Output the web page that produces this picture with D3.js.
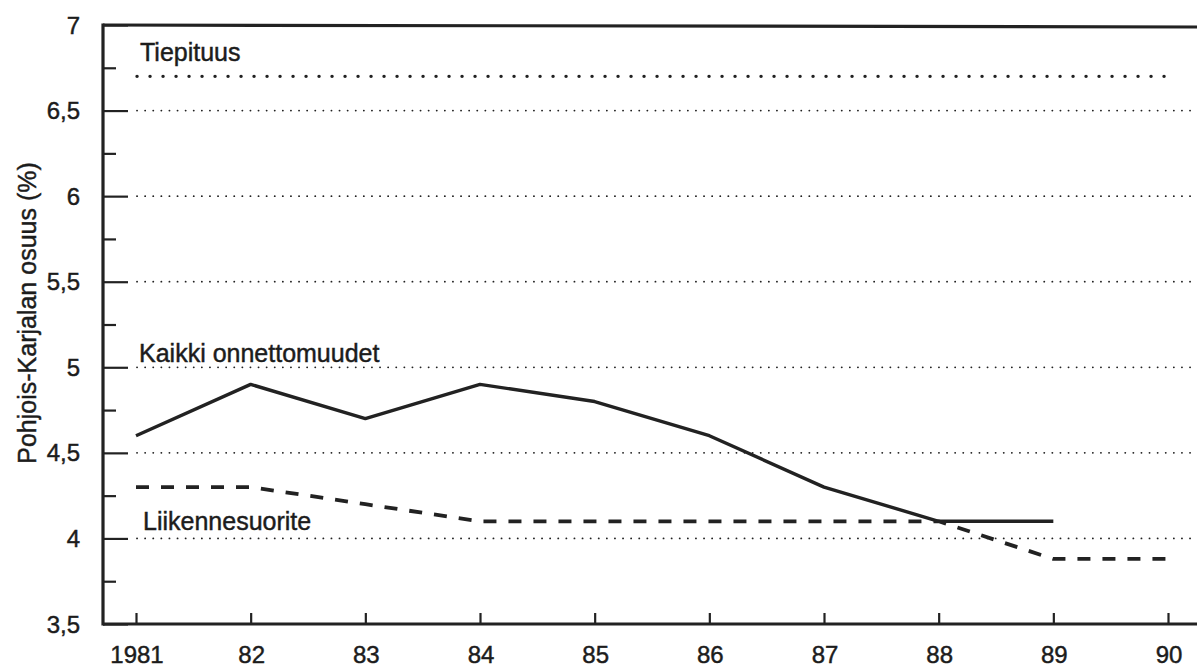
<!DOCTYPE html>
<html>
<head>
<meta charset="utf-8">
<script src="https://cdn.jsdelivr.net/npm/d3@7"></script>
<style>
html,body{margin:0;padding:0;background:#fff;}
svg{display:block;}
text{font-family:"Liberation Sans",Arial,Helvetica,sans-serif;fill:#1c1c1c;stroke:#1c1c1c;stroke-width:0.45px;}
</style>
</head>
<body>
<svg id="chart" width="1197" height="668"></svg>
<script>
// ---- data ----
const years = [1981, 1982, 1983, 1984, 1985, 1986, 1987, 1988, 1989, 1990];
const xTickLabels = ["1981", "82", "83", "84", "85", "86", "87", "88", "89", "90"];
const yTicks = [3.5, 4, 4.5, 5, 5.5, 6, 6.5, 7];
const yTickLabels = ["3,5", "4", "4,5", "5", "5,5", "6", "6,5", "7"];
const yMinorTicks = [3.75, 4.25, 4.75, 5.25, 5.75, 6.25, 6.75];
const gridValues = [4, 4.5, 5, 5.5, 6, 6.5];
const tiepituus = [6.7, 6.7, 6.7, 6.7, 6.7, 6.7, 6.7, 6.7, 6.7, 6.7];
const kaikkiOnnettomuudet = [4.6, 4.9, 4.7, 4.9, 4.8, 4.6, 4.3, 4.1, 4.1];
const liikennesuorite = [4.3, 4.3, 4.2, 4.1, 4.1, 4.1, 4.1, 4.1, 3.88, 3.88];
const seriesLabels = [
  {text: "Tiepituus", year: 1981, value: 6.7, dx: 4, dy: -15},
  {text: "Kaikki onnettomuudet", year: 1981, value: 5, dx: 3, dy: -5},
  {text: "Liikennesuorite", year: 1981, value: 4, dx: 7, dy: -8}
];
const yTitle = "Pohjois-Karjalan osuus (%)";

// ---- layout ----
const W = 1197, H = 668;
const axisX = 103, topY = 25, bottomY = 624;
const ink = "#222";

const svg = d3.select("#chart");
const x = d3.scaleLinear().domain([1981, 1990]).range([136, 1168]);
const y = d3.scaleLinear().domain([3.5, 7]).range([bottomY, topY]);

// grid lines (dotted)
svg.append("g").selectAll("line").data(gridValues).join("line")
  .attr("x1", 137).attr("x2", W)
  .attr("y1", d => y(d)).attr("y2", d => y(d))
  .attr("stroke", ink).attr("stroke-width", 1.8)
  .attr("stroke-linecap", "round")
  .attr("stroke-dasharray", "0.1 8");

// y axis with major and minor ticks (inward)
const yAxis = d3.axisRight(y).tickValues(yTicks).tickSize(25).tickFormat("");
const gy = svg.append("g").attr("transform", `translate(${axisX},0)`).call(yAxis);
gy.select(".domain").remove();
gy.selectAll(".tick line").attr("stroke", ink).attr("stroke-width", 2.2);
const yAxisMinor = d3.axisRight(y).tickValues(yMinorTicks).tickSize(13).tickFormat("");
const gym = svg.append("g").attr("transform", `translate(${axisX},0)`).call(yAxisMinor);
gym.select(".domain").remove();
gym.selectAll(".tick line").attr("stroke", ink).attr("stroke-width", 2.2);

// y tick labels
svg.append("g").selectAll("text").data(yTicks).join("text")
  .attr("x", 80).attr("y", d => y(d)).attr("dy", "0.36em")
  .attr("text-anchor", "end").attr("font-size", 24)
  .text((d, i) => yTickLabels[i]);

// x axis ticks (upward)
const xAxis = d3.axisTop(x).tickValues(years).tickSize(11).tickFormat("");
const gx = svg.append("g").attr("transform", `translate(0,${bottomY})`).call(xAxis);
gx.select(".domain").remove();
gx.selectAll(".tick line").attr("stroke", ink).attr("stroke-width", 2.2);

svg.append("g").selectAll("text").data(years).join("text")
  .attr("x", d => x(d) + 1).attr("y", 663)
  .attr("text-anchor", "middle").attr("font-size", 24)
  .text((d, i) => xTickLabels[i]);

// frame: left axis, top border, bottom axis
svg.append("line").attr("x1", axisX).attr("x2", axisX).attr("y1", topY - 1.5).attr("y2", bottomY + 1.5)
  .attr("stroke", ink).attr("stroke-width", 3.2);
svg.append("line").attr("x1", axisX).attr("x2", W).attr("y1", topY).attr("y2", topY + 2)
  .attr("stroke", ink).attr("stroke-width", 3.2);
svg.append("line").attr("x1", axisX).attr("x2", W).attr("y1", bottomY).attr("y2", bottomY)
  .attr("stroke", ink).attr("stroke-width", 3.2);

// series
const line = d3.line().x((d, i) => x(years[i])).y(d => y(d));

svg.append("path").datum(tiepituus)
  .attr("d", d3.line().x((d, i) => x(years[i]) + (i === 0 ? 1 : 3)).y(d => y(d)))
  .attr("fill", "none").attr("stroke", ink).attr("stroke-width", 3.4)
  .attr("stroke-linecap", "round").attr("stroke-dasharray", "0.1 12.9");

svg.append("path").datum(liikennesuorite).attr("d", line)
  .attr("fill", "none").attr("stroke", ink).attr("stroke-width", 3.8)
  .attr("stroke-dasharray", "13 12");

svg.append("path").datum(kaikkiOnnettomuudet).attr("d", line)
  .attr("fill", "none").attr("stroke", ink).attr("stroke-width", 3.4)
  .attr("stroke-linejoin", "round");

// series labels
svg.append("g").selectAll("text").data(seriesLabels).join("text")
  .attr("x", d => x(d.year) + d.dx).attr("y", d => y(d.value) + d.dy)
  .attr("font-size", 25)
  .text(d => d.text);

// y title
svg.append("text")
  .attr("transform", `translate(36,313) rotate(-90)`)
  .attr("text-anchor", "middle").attr("font-size", 25)
  .text(yTitle);
</script>
</body>
</html>
